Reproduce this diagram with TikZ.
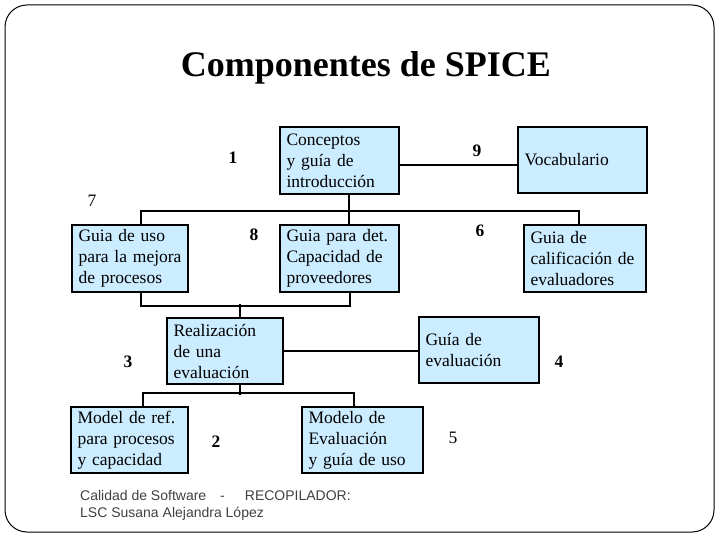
\documentclass[tikz,border=0pt]{standalone}
\usepackage{fontspec}
\setmainfont{Liberation Serif}
\newfontfamily\footfont{Liberation Sans}
\usepackage{tikz}

\definecolor{compblue}{RGB}{204,236,255}
\definecolor{footgray}{RGB}{64,64,64}

\tikzset{
	comp/.style={draw, line width=2pt, fill=compblue, align=left, inner xsep=6.5pt, inner ysep=0pt, font=\fontsize{17.5}{21}\selectfont},
	conn/.style={line width=2pt},
	num/.style={inner sep=0pt, font=\fontsize{17.5}{21}\selectfont\bfseries},
	numlight/.style={inner sep=0pt, font=\fontsize{17.5}{21}\selectfont},
}

\begin{document}
\begin{tikzpicture}[x=1pt,y=-1pt]
		
		\useasboundingbox (0,0) rectangle (720,540);
		\draw[line width=1pt, rounded corners=22pt] (5,5) rectangle (714,532);
		
		\node[anchor=base, font=\fontsize{36}{40}\selectfont\bfseries] (title) at (366,77) {Componentes de SPICE};
		
		\node[comp, text width=106pt, minimum height=67pt] (concepts) at (339.5,160.5) {Conceptos\\y guía de\\introducción};
		\node[comp, text width=116pt, minimum height=66pt] (vocab) at (582.5,160) {Vocabulario};
		\node[comp, text width=103pt, minimum height=67pt] (usoguia) at (130,258.5) {Guia de uso\\para la mejora\\de procesos};
		\node[comp, text width=106pt, minimum height=67pt] (provguia) at (339.5,258.5) {Guia para det.\\Capacidad de\\proveedores};
		\node[comp, text width=109pt, minimum height=67pt] (califguia) at (585,258.5) {Guia de\\calificación de\\evaluadores};
		\node[comp, text width=103pt, minimum height=66pt] (realiz) at (225,351) {Realización\\de una\\evaluación};
		\node[comp, text width=107pt, minimum height=66pt] (evalguia) at (479,350) {Guía de\\evaluación};
		\node[comp, text width=104pt, minimum height=66pt] (modref) at (129.5,440) {Model de ref.\\para procesos\\y capacidad};
		\node[comp, text width=108pt, minimum height=66pt] (modeval) at (362.5,440) {Modelo de\\Evaluación\\y guía de uso};
		
		\draw[conn] ([yshift=-5pt]concepts.east) -- ([yshift=-5pt]concepts.east -| vocab.west);
		\draw[conn] ([xshift=9.5pt]concepts.south) -- ([xshift=9.5pt]provguia.north);
		\draw[conn] ([xshift=11pt]usoguia.north) -- ++(0,-13) -| ([xshift=-6pt]califguia.north);
		\draw[conn] ([xshift=11pt]usoguia.south) -- ++(0,13) -| ([xshift=10.5pt]provguia.south);
		\draw[conn] ([xshift=15pt]realiz.north) -- ++(0,-13);
		\draw[conn] (realiz.east) -- (realiz.east -| evalguia.west);
		\draw[conn] ([xshift=15pt]realiz.south) -- ++(0,10);
		\draw[conn] ([xshift=13.5pt]modref.north) -- ++(0,-13) -| ([xshift=-8.5pt]modeval.north);
		
		\node[num] (n1) at (233,158) {1};
		\node[num] (n9) at (477,151) {9};
		\node[numlight] (n7) at (92,201) {7};
		\node[num] (n8) at (254,235) {8};
		\node[num] (n6) at (480,230.5) {6};
		\node[num] (n3) at (128,362) {3};
		\node[num] (n4) at (559,362) {4};
		\node[num] (n2) at (216,442) {2};
		\node[numlight] (n5) at (453,438) {5};
		
		\node[anchor=north west, inner sep=0pt, align=left, text=footgray, font=\footfont\fontsize{14}{17}\selectfont] (footer) at (80,490) {Calidad de Software\hspace{14pt}-\hspace{20pt}RECOPILADOR:\\LSC Susana Alejandra López};
		
	\end{tikzpicture}
\end{document}
